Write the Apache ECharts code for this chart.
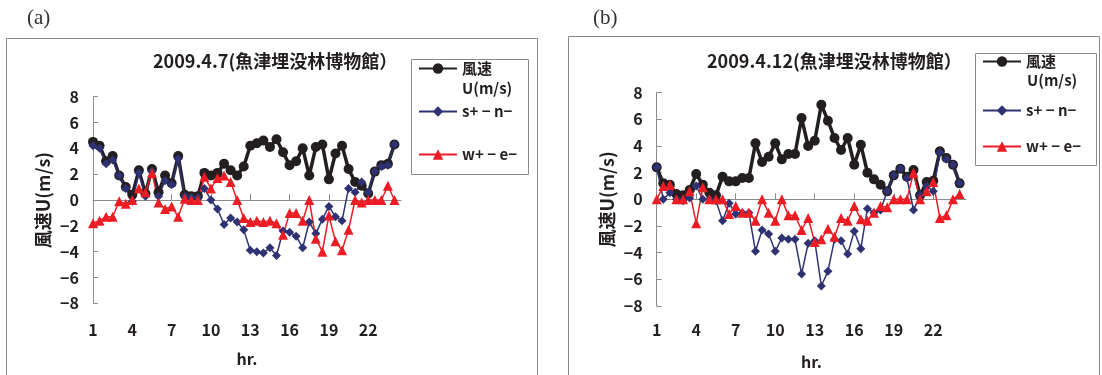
<!DOCTYPE html>
<html>
<head>
<meta charset="utf-8">
<script src="https://cdn.jsdelivr.net/npm/echarts@6/dist/echarts.min.js"></script>
<style>
  html, body { margin: 0; padding: 0; background: #fff; }
  #chart { width: 1102px; height: 375px; }
</style>
</head>
<body>
<div id="chart"></div>
<script>
// half-hourly categories (hr.)
const hours = ['1', '1.5', '2', '2.5', '3', '3.5', '4', '4.5', '5', '5.5', '6', '6.5',
  '7', '7.5', '8', '8.5', '9', '9.5', '10', '10.5', '11', '11.5', '12', '12.5',
  '13', '13.5', '14', '14.5', '15', '15.5', '16', '16.5', '17', '17.5', '18', '18.5',
  '19', '19.5', '20', '20.5', '21', '21.5', '22', '22.5', '23', '23.5', '24', '24.5'];

// (a) 2009.4.7
const speedA = [4.5, 4.2, 3.0, 3.4, 1.9, 1.0, 0.4, 2.3, 0.5, 2.4, 0.6, 1.9, 1.3, 3.4, 0.4, 0.3,
  0.3, 2.1, 1.9, 2.1, 2.8, 2.3, 1.9, 2.6, 4.2, 4.4, 4.6, 4.1, 4.7, 3.7, 2.7, 3.0,
  4.0, 1.9, 4.1, 4.3, 1.6, 3.6, 4.2, 2.4, 1.4, 1.1, 0.5, 2.2, 2.7, 2.8, 4.3];
const snA = [4.2, 4.0, 2.8, 3.1, 1.9, 0.9, -0.1, 2.1, 0.3, 2.2, 0.3, 1.5, 1.2, 3.2, 0.3, 0.2,
  0.2, 0.9, 0.0, -0.7, -1.9, -1.4, -1.7, -2.3, -3.9, -4.0, -4.1, -3.7, -4.3, -2.4, -2.5, -2.8,
  -3.7, -1.7, -2.6, -1.5, -0.5, -1.3, -1.6, 0.9, 0.6, 1.4, 0.6, 2.2, 2.6, 2.7, 4.3];
const weA = [-1.8, -1.6, -1.3, -1.3, -0.1, -0.3, 0.0, 0.9, 0.6, 2.1, -0.2, -0.7, -0.5, -1.3, 0.1, 0.0,
  0.0, 1.8, 0.9, 1.7, 1.9, 1.4, 0.0, -1.4, -1.7, -1.6, -1.7, -1.6, -1.8, -2.7, -1.0, -1.0,
  -1.6, 0.0, -3.0, -4.0, -1.2, -3.2, -3.9, -2.3, 0.0, -0.2, 0.0, 0.0, 0.0, 1.1, 0.0];

// (b) 2009.4.12
const speedB = [2.4, 1.2, 1.1, 0.4, 0.3, 0.7, 1.9, 1.1, 0.5, 0.3, 1.7, 1.35, 1.35, 1.6, 1.6, 4.2,
  2.8, 3.2, 4.2, 3.0, 3.4, 3.4, 6.1, 4.0, 4.4, 7.1, 5.9, 4.6, 3.7, 4.6, 2.6, 4.1,
  2.0, 1.5, 1.1, 0.6, 1.8, 2.3, 1.7, 2.2, 0.3, 1.3, 1.4, 3.6, 3.1, 2.6, 1.2];
const snB = [2.4, 0.0, 0.5, 0.0, -0.1, 0.1, 1.0, 0.0, 0.0, -0.1, -1.6, -0.3, -1.1, -1.0, -1.0, -3.9,
  -2.3, -2.6, -3.9, -2.9, -3.0, -3.0, -5.6, -3.3, -3.1, -6.5, -5.4, -3.0, -3.1, -4.1, -2.4, -3.7,
  -0.7, -1.0, -0.8, 0.6, 1.8, 2.3, 1.6, -0.8, 0.3, 1.0, 0.6, 3.5, 3.0, 2.6, 1.2];
const weB = [0.0, 1.0, 1.1, 0.0, 0.0, 0.6, -1.8, 0.9, 0.0, 0.0, 0.0, -1.1, -0.5, -1.0, -1.0, -1.6,
  0.0, -1.0, -1.6, 0.0, -1.2, -1.2, -2.3, -1.4, -3.2, -3.0, -2.2, -2.8, -1.4, -1.6, -0.5, -1.5,
  -1.6, -1.0, -0.5, -0.6, 0.0, 0.0, 0.0, 2.0, 0.0, 0.6, 1.3, -1.4, -1.2, 0.0, 0.4];

const titles = ['2009.4.7(魚津埋没林博物館）', '2009.4.12(魚津埋没林博物館）'];
const seriesNames = ['風速', 's+ − n−', 'w+ − e−'];

const FONT = '"Noto Sans CJK JP", "Noto Sans", sans-serif';
const AXIS = '#8c8c8c';
const INK = '#231f20';
const NAVY = '#2f3272';
const RED = '#ec1c24';

const bold = (size) => ({ color: INK, fontSize: size, fontWeight: 'bold', fontFamily: FONT });

function xAxisFor(gridIndex, margin) {
  return {
    type: 'category',
    gridIndex,
    data: hours,
    boundaryGap: false,
    axisLine: { lineStyle: { color: AXIS, width: 1 } },
    axisTick: { inside: true, length: 6, interval: 5, lineStyle: { color: AXIS } },
    axisLabel: Object.assign({ interval: 5, margin }, bold(16)),
    name: 'hr.',
    nameLocation: 'middle',
    nameGap: 48,
    nameTextStyle: bold(16),
  };
}

function yAxisFor(gridIndex) {
  return {
    type: 'value',
    gridIndex,
    min: -8,
    max: 8,
    interval: 2,
    axisLine: { show: true, lineStyle: { color: AXIS, width: 1 } },
    axisTick: { show: true, inside: true, length: 5, lineStyle: { color: AXIS } },
    splitLine: { show: false },
    axisLabel: Object.assign({
      margin: 14,
      formatter: (v) => String(v).replace('-', '−'),
    }, bold(16)),
    name: '風速U(m/s)',
    nameLocation: 'middle',
    nameRotate: 90,
    nameGap: 41,
    nameTextStyle: bold(18),
  };
}

function lines(idx, speed, sn, we) {
  const base = { type: 'line', xAxisIndex: idx, yAxisIndex: idx, showAllSymbol: true, animation: false };
  return [
    Object.assign({}, base, {
      name: seriesNames[0], data: speed, symbol: 'circle', symbolSize: 10,
      lineStyle: { color: INK, width: 3.5 }, itemStyle: { color: INK },
    }),
    Object.assign({}, base, {
      name: seriesNames[1], data: sn, symbol: 'diamond', symbolSize: 9,
      lineStyle: { color: NAVY, width: 1.5 }, itemStyle: { color: NAVY },
    }),
    Object.assign({}, base, {
      name: seriesNames[2], data: we, symbol: 'triangle', symbolSize: 10,
      lineStyle: { color: RED, width: 1.5 }, itemStyle: { color: RED },
    }),
  ];
}

function legendItem(name, left, top) {
  return {
    data: [name], left, top, padding: 0,
    itemWidth: 38, itemHeight: 13, itemGap: 0,
    selectedMode: false,
    textStyle: bold(15),
  };
}

const chart = echarts.init(document.getElementById('chart'));

chart.setOption({
  backgroundColor: '#fff',
  animation: false,
  title: [
    { text: titles[0], left: 153, top: 52, padding: 0, textStyle: bold(18) },
    { text: titles[1], left: 707, top: 52, padding: 0, textStyle: bold(18) },
  ],
  legend: [
    legendItem(seriesNames[0], 418, 61),
    legendItem(seriesNames[1], 418, 104),
    legendItem(seriesNames[2], 418, 147),
    legendItem(seriesNames[0], 982, 54),
    legendItem(seriesNames[1], 982, 103),
    legendItem(seriesNames[2], 982, 139),
  ],
  grid: [
    { left: 93, top: 96.7, width: 308, height: 206.6 },
    { left: 656.7, top: 92.7, width: 309.5, height: 213.8 },
  ],
  xAxis: [xAxisFor(0, 19), xAxisFor(1, 16)],
  yAxis: [yAxisFor(0), yAxisFor(1)],
  series: [...lines(0, speedA, snA, weA), ...lines(1, speedB, snB, weB)],
  graphic: [
    { type: 'rect', shape: { x: 6.5, y: 38.5, width: 531, height: 350 }, style: { fill: 'none', stroke: '#8a8a8a', lineWidth: 1 } },
    { type: 'rect', shape: { x: 568.5, y: 36.5, width: 531, height: 350 }, style: { fill: 'none', stroke: '#8a8a8a', lineWidth: 1 } },
    { type: 'rect', shape: { x: 411.5, y: 59.5, width: 117, height: 115 }, style: { fill: 'none', stroke: '#8a8a8a', lineWidth: 1 } },
    { type: 'rect', shape: { x: 975.5, y: 53.5, width: 121, height: 112 }, style: { fill: 'none', stroke: '#8a8a8a', lineWidth: 1 } },
    { type: 'text', left: 27, top: 8, style: { text: '(a)', fill: '#333', font: '21px "Liberation Serif", serif' } },
    { type: 'text', left: 593, top: 8, style: { text: '(b)', fill: '#333', font: '21px "Liberation Serif", serif' } },
    { type: 'text', left: 462, top: 81, style: { text: 'U(m/s)', fill: INK, font: 'bold 15px ' + FONT } },
    { type: 'text', left: 1027, top: 73, style: { text: 'U(m/s)', fill: INK, font: 'bold 15px ' + FONT } },
  ],
});
</script>
</body>
</html>
